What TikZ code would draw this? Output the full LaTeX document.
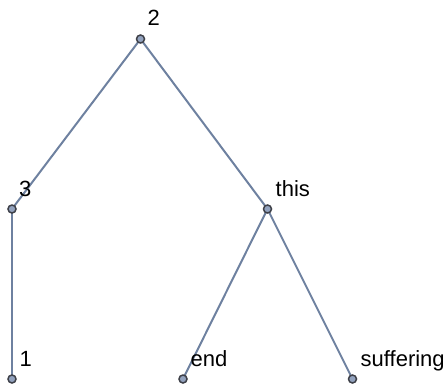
\documentclass[tikz,border=0pt]{standalone}
\usepackage{fontspec}
\setmainfont{Liberation Sans}
\usetikzlibrary{backgrounds}
\definecolor{ramo}{RGB}{110,129,160}
\definecolor{nodo}{RGB}{146,162,190}
\definecolor{bordo}{RGB}{62,64,72}
\begin{document}
\begin{tikzpicture}[x=1pt,y=1pt,
    vertice/.style={circle, fill=nodo, draw=bordo, line width=1.5pt, minimum size=8pt, inner sep=0pt},
    ramo/.style={draw=ramo, line width=2pt},
    etichetta/.style={anchor=base west, inner sep=0pt, font=\fontsize{22}{26}\selectfont}]

        % Cornice dell'immagine
        \useasboundingbox (0,0) rectangle (447,384);

        % Vertici dell'albero
        \node[vertice] (n2) at (140.5,345) {};
        \node[vertice] (n3) at (12,175) {};
        \node[vertice] (nthis) at (267.5,175) {};
        \node[vertice] (n1) at (12,5) {};
        \node[vertice] (nend) at (183,5) {};
        \node[vertice] (nsuff) at (352.5,5) {};

        % Rami
        \begin{scope}[on background layer]
        \draw[ramo] (n2.center) -- (n3.center);
        \draw[ramo] (n2.center) -- (nthis.center);
        \draw[ramo] (n3.center) -- (n1.center);
        \draw[ramo] (nthis.center) -- (nend.center);
        \draw[ramo] (nthis.center) -- (nsuff.center);
        \end{scope}

        % Etichette dei vertici
        \node[etichetta] (t2) at ([shift={(7,14)}]n2.center) {2};
        \node[etichetta] (t3) at ([shift={(7,13)}]n3.center) {3};
        \node[etichetta] (tthis) at ([shift={(8,13)}]nthis.center) {this};
        \node[etichetta] (t1) at ([shift={(7.5,13)}]n1.center) {1};
        \node[etichetta] (tend) at ([shift={(7.5,13)}]nend.center) {end};
        \node[etichetta] (tsuff) at ([shift={(8,13)}]nsuff.center) {suffering};

    \end{tikzpicture}
\end{document}
